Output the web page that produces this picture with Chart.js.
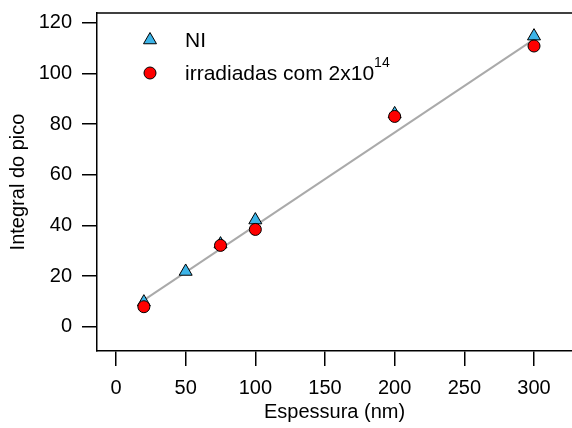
<!DOCTYPE html>
<html>
<head>
<meta charset="utf-8">
<script src="https://cdn.jsdelivr.net/npm/chart.js"></script>
<style>body{margin:0;background:#fff}</style>
</head>
<body>
<canvas id="grafico" width="572" height="428"></canvas>
<script>
// dados
var espessuraNI = [20, 50, 75, 100, 200, 300];
var integralNI = [9.7, 21.8, 32.6, 42.1, 84.0, 114.7];
var espessuraIrr = [20, 75, 100, 200, 300];
var integralIrr = [7.9, 32.1, 38.4, 83.0, 110.8];
// reta de ajuste
var ajusteX = [20, 300];
var ajusteY = [10.5, 113.4];

function pontos(xs, ys) {
  return xs.map(function (x, i) { return { x: x, y: ys[i] }; });
}

Chart.defaults.font.family = "'Liberation Sans', Arial, sans-serif";
Chart.defaults.font.size = 20;
Chart.defaults.color = '#000';

// legenda desenhada à mão (com expoente) + borda de cima
var legenda = {
  id: 'legenda',
  afterDraw: function (chart) {
    var ctx = chart.ctx, a = chart.chartArea;
    ctx.save();
    ctx.strokeStyle = '#000';
    ctx.lineWidth = 1.5;
    ctx.beginPath();
    ctx.moveTo(a.left, a.top);
    ctx.lineTo(a.right, a.top);
    ctx.stroke();

    ctx.lineWidth = 1;
    ctx.fillStyle = '#3cb4e8';
    Chart.helpers.drawPoint(ctx, { pointStyle: 'triangle', radius: 7.5, rotation: 0, borderWidth: 1 }, 150, 40);
    ctx.fillStyle = '#ff0000';
    Chart.helpers.drawPoint(ctx, { pointStyle: 'circle', radius: 6, rotation: 0, borderWidth: 1 }, 150, 73);

    ctx.fillStyle = '#000';
    ctx.textBaseline = 'alphabetic';
    ctx.font = "21px 'Liberation Sans', Arial, sans-serif";
    ctx.fillText('NI', 185, 47);
    var txt = 'irradiadas com 2x10';
    ctx.fillText(txt, 185, 80);
    var w = ctx.measureText(txt).width;
    ctx.font = "14px 'Liberation Sans', Arial, sans-serif";
    ctx.fillText('14', 185 + w, 67);
    ctx.restore();
  }
};

var ctx = document.getElementById('grafico').getContext('2d');
var grafico = new Chart(ctx, {
  type: 'scatter',
  data: {
    datasets: [{
      label: 'irradiadas com 2x10^14',
      data: pontos(espessuraIrr, integralIrr),
      pointStyle: 'circle',
      pointRadius: 6,
      backgroundColor: '#ff0000',
      borderColor: '#000',
      borderWidth: 1,
      order: 0
    }, {
      label: 'NI',
      data: pontos(espessuraNI, integralNI),
      pointStyle: 'triangle',
      pointRadius: 7.5,
      backgroundColor: '#3cb4e8',
      borderColor: '#000',
      borderWidth: 1,
      order: 1
    }, {
      label: 'ajuste',
      type: 'line',
      data: pontos(ajusteX, ajusteY),
      borderColor: '#aaaaaa',
      borderWidth: 2,
      pointRadius: 0,
      order: 2
    }]
  },
  options: {
    responsive: false,
    animation: false,
    layout: { autoPadding: false, padding: { top: 13, right: 0, left: 0, bottom: 0 } },
    plugins: { legend: { display: false }, tooltip: { enabled: false } },
    scales: {
      x: {
        type: 'linear',
        min: -13.64,
        max: 327.27,
        afterFit: function (s) { s.height = 77; s.paddingLeft = 0; s.paddingRight = 0; },
        ticks: { stepSize: 50, includeBounds: false, padding: 10, maxRotation: 0 },
        grid: { drawOnChartArea: false, tickLength: 15, color: '#000', lineWidth: 1.5 },
        border: { color: '#000', width: 1.5 },
        title: { display: true, text: 'Espessura (nm)', padding: { top: 0, bottom: 4 } }
      },
      y: {
        min: -9.59,
        max: 123.83,
        afterFit: function (s) { s.width = 97; s.paddingTop = 0; s.paddingBottom = 0; },
        ticks: { stepSize: 20, includeBounds: false, padding: 10 },
        grid: { drawOnChartArea: false, tickLength: 15, color: '#000', lineWidth: 1.5 },
        border: { color: '#000', width: 1.5 },
        title: { display: true, text: 'Integral do pico', padding: { top: 6, bottom: 0 } }
      }
    }
  },
  plugins: [legenda]
});
</script>
</body>
</html>
